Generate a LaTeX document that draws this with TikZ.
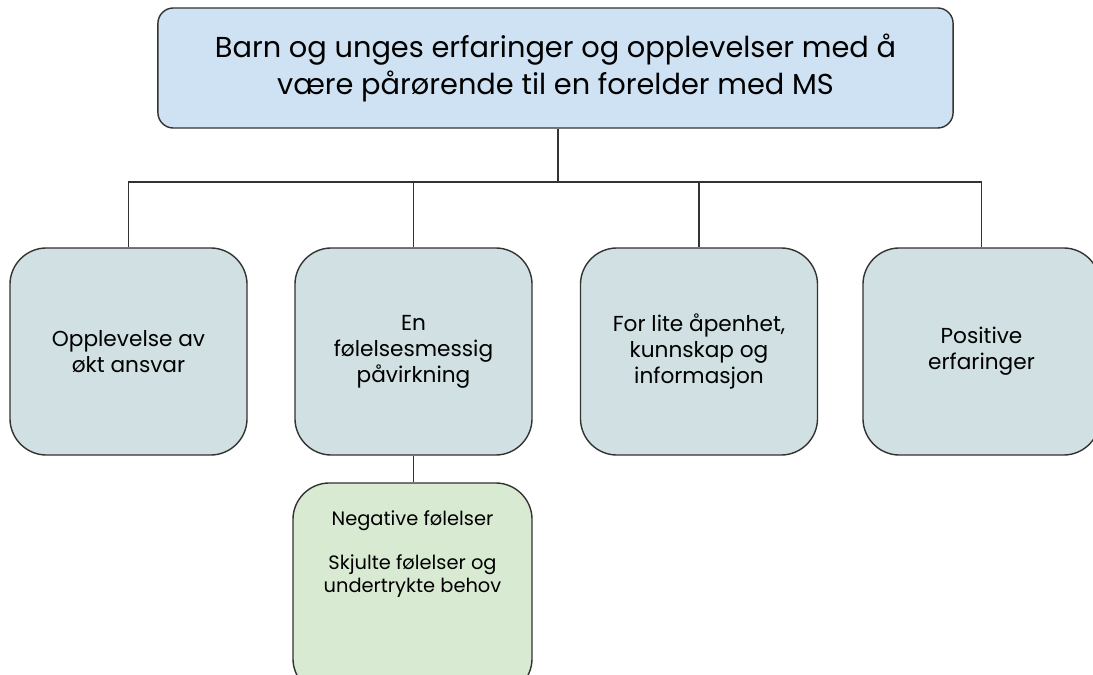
\documentclass[tikz,border=0pt]{standalone}
\usepackage{fontspec}
\setmainfont{Poppins}
\usepackage{tikz}
\definecolor{topblue}{HTML}{CFE2F3}
\definecolor{themegray}{HTML}{D0E0E3}
\definecolor{subgreen}{HTML}{D9EAD3}
\definecolor{linegray}{HTML}{333333}

\begin{document}
\begin{tikzpicture}[x=0.025cm, y=-0.025cm,
		main/.style={rectangle, rounded corners=11pt, draw=linegray, fill=topblue, line width=1pt, minimum width=19.875cm, minimum height=3cm, align=center, font=\fontsize{20.5}{26.2}\selectfont},
		theme/.style={rectangle, rounded corners=26pt, draw=linegray, fill=themegray, line width=1pt, minimum width=5.925cm, minimum height=5.175cm, align=center, font=\fontsize{15.4}{18.4}\selectfont},
		sub/.style={rectangle, rounded corners=26pt, draw=linegray, fill=subgreen, line width=1pt, minimum width=5.975cm, minimum height=5.3cm},
		subtext/.style={align=center, font=\fontsize{13.8}{16.3}\selectfont},
		link/.style={draw=linegray, line width=1pt}]
		\useasboundingbox (0,0) rectangle (1093,675);
		\node[main] (top) at (555.5,68) {Barn og unges erfaringer og opplevelser med å\\være pårørende til en forelder med MS};
		\node[theme] (ansvar) at (128.5,351.5) {Opplevelse av\\økt ansvar};
		\node[theme] (emosjon) at (413.5,351.5) {En\\følelsesmessig\\påvirkning};
		\node[theme] (apenhet) at (699,351.5) {For lite åpenhet,\\kunnskap og\\informasjon};
		\node[theme] (positiv) at (981.5,351.5) {Positive\\erfaringer};
		\node[sub] (negativ) at (412.5,589) {};
		\node[subtext] (negtext) at (412.5,554) {Negative følelser\\[15pt]Skjulte følelser og\\undertrykte behov};
		\coordinate (bus) at (558,182);

		\path[link] (top.south -| bus) -- (bus) -| (ansvar.north);
		\path[link] (bus) -| (emosjon.north);
		\path[link] (bus) -| (apenhet.north);
		\path[link] (bus) -| (positiv.north);
		\path[link] (emosjon.south) -- (emosjon.south |- negativ.north);

	\end{tikzpicture}
\end{document}
